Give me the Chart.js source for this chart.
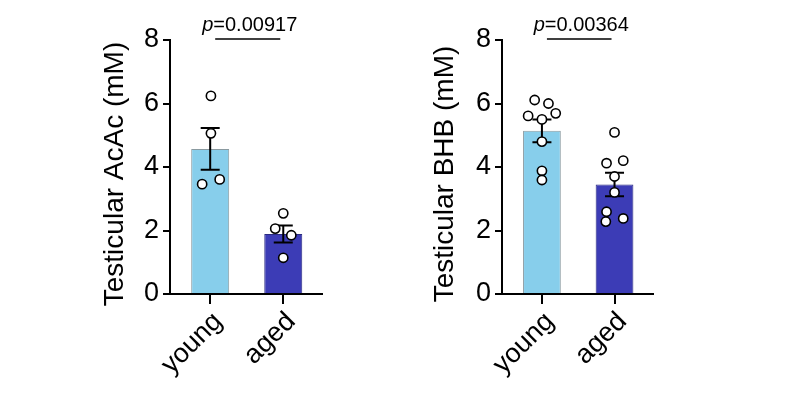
<!DOCTYPE html>
<html><head><meta charset="utf-8">
<script src="https://cdn.jsdelivr.net/npm/chart.js@4/dist/chart.umd.min.js"></script>
<style>
html,body{margin:0;padding:0;background:#fff;}
#wrap{position:relative;width:811px;height:397px;background:#fff;}
canvas{position:absolute;left:0;top:0;}
</style></head><body>
<div id="wrap"><canvas id="c1" width="811" height="397"></canvas><canvas id="c2" width="811" height="397"></canvas></div>
<script>
// ---- data ----
const groups = ['young', 'aged'];
const yTicks = [0, 2, 4, 6, 8];

const acacMeans = [4.57, 1.89];
const acacSems = [0.66, 0.27];
const acacYoung = [6.24, 5.06, 3.46, 3.61];
const acacAged = [2.54, 2.06, 1.85, 1.14];
const acacYoungJitter = [0.01, 0.01, -0.11, 0.13];
const acacAgedJitter = [0.0, -0.11, 0.11, 0.0];
const acacP = '0.00917';

const bhbMeans = [5.14, 3.45];
const bhbSems = [0.36, 0.37];
const bhbYoung = [6.11, 6.00, 5.61, 5.50, 5.69, 4.80, 3.88, 3.59];
const bhbAged = [5.09, 4.12, 4.20, 3.70, 3.20, 2.59, 2.28, 2.38];
const bhbYoungJitter = [-0.10, 0.09, -0.19, 0.0, 0.19, 0.0, 0.0, 0.0];
const bhbAgedJitter = [0.0, -0.11, 0.12, 0.0, 0.0, -0.11, -0.12, 0.12];
const bhbP = '0.00364';

// ---- style ----
const FONT = "'Liberation Sans', Arial, Helvetica, sans-serif";
const barFill = ['#87CEEB', '#3C3CB6'];
const barEdge = ['#8a9aa0', '#2a2a80'];

const errorBarPlugin = {
  id: 'errorBars',
  afterDatasetDraw(chart, args, opts) {
    if (args.index !== 0) return;
    const ctx = chart.ctx, y = chart.scales.y, x = chart.scales.x;
    ctx.save();
    ctx.strokeStyle = '#000';
    ctx.lineWidth = 2;
    opts.means.forEach((m, i) => {
      const cx = x.getPixelForValue(i);
      const top = y.getPixelForValue(m + opts.sems[i]);
      const bot = y.getPixelForValue(m - opts.sems[i]);
      ctx.beginPath();
      ctx.moveTo(cx, top); ctx.lineTo(cx, bot);
      ctx.moveTo(cx - 9.5, top); ctx.lineTo(cx + 9.5, top);
      ctx.moveTo(cx - 9.5, bot); ctx.lineTo(cx + 9.5, bot);
      ctx.stroke();
    });
    ctx.restore();
  }
};

const annotPlugin = {
  id: 'annot',
  afterDraw(chart, args, opts) {
    const ctx = chart.ctx, y = chart.scales.y, x = chart.scales.x;
    // significance line + p value
    const x0 = x.getPixelForValue(0) + 5, x1 = x.getPixelForValue(1) - 3;
    const ly = y.getPixelForValue(8) - 1;
    ctx.save();
    ctx.strokeStyle = '#000';
    ctx.lineWidth = 1.5;
    ctx.beginPath(); ctx.moveTo(x0, ly); ctx.lineTo(x1, ly); ctx.stroke();
    const fs = 20;
    ctx.fillStyle = '#000';
    ctx.textBaseline = 'alphabetic';
    ctx.font = 'italic ' + fs + 'px ' + FONT;
    const wP = ctx.measureText('p').width;
    ctx.font = fs + 'px ' + FONT;
    const rest = '=' + opts.p;
    const wR = ctx.measureText(rest).width;
    const start = (x0 + x1) / 2 + 2 - (wP + wR) / 2;
    ctx.font = 'italic ' + fs + 'px ' + FONT;
    ctx.textAlign = 'left';
    ctx.fillText('p', start, ly - 8);
    ctx.font = fs + 'px ' + FONT;
    ctx.fillText(rest, start + wP, ly - 8);
    // y axis title
    ctx.translate(opts.titleX, (y.top + y.bottom) / 2 + 7);
    ctx.rotate(-Math.PI / 2);
    ctx.font = '28px ' + FONT;
    ctx.textAlign = 'center';
    ctx.textBaseline = 'middle';
    ctx.fillText(opts.title, 0, 0);
    ctx.restore();
  }
};

function makeChart(id, cfg) {
  const pts = (vals, jit, g) => vals.map((v, i) => ({ x: g + jit[i], y: v }));
  const pointStyle = {
    type: 'scatter', order: 0,
    pointRadius: 4.6, pointBackgroundColor: '#fff', pointBorderColor: '#000', pointBorderWidth: 1.6,
    pointHoverRadius: 4.6
  };
  return new Chart(document.getElementById(id), {
    type: 'bar',
    data: {
      datasets: [
        { type: 'bar', data: cfg.means.map((m, i) => ({ x: i, y: m })), backgroundColor: barFill, borderColor: barEdge, borderWidth: 1,
          barPercentage: 0.52, categoryPercentage: 1, grouped: false, order: 2 },
        Object.assign({ data: pts(cfg.young, cfg.youngJ, 0) }, pointStyle),
        Object.assign({ data: pts(cfg.aged, cfg.agedJ, 1) }, pointStyle)
      ]
    },
    options: {
      responsive: false, animation: false, devicePixelRatio: 1,
      layout: { padding: { left: cfg.padLeft, right: cfg.padRight, top: 40, bottom: 0 } },
      plugins: {
        legend: { display: false }, tooltip: { enabled: false },
        errorBars: { means: cfg.means, sems: cfg.sems },
        annot: { p: cfg.p, title: cfg.title, titleX: cfg.titleX }
      },
      scales: {
        x: {
          type: 'linear', min: -0.55, max: 1.53, offset: false,
          afterBuildTicks: s => { s.ticks = groups.map((g, i) => ({ value: i })); },
          grid: { display: true, offset: false, drawOnChartArea: false, tickLength: 10, color: '#000', lineWidth: 2 },
          border: { display: true, color: '#000', width: 2 },
          ticks: { color: '#000', font: { family: FONT, size: 27 }, minRotation: 45, maxRotation: 45, padding: 2,
                   labelOffset: 8, callback: v => groups[v] },
          afterFit: s => { s.height = 103; }
        },
        y: {
          type: 'linear', min: 0, max: 8,
          afterBuildTicks: s => { s.ticks = yTicks.map(v => ({ value: v })); },
          grid: { display: true, drawOnChartArea: false, tickLength: 7, color: '#000', lineWidth: 2 },
          border: { display: true, color: '#000', width: 2 },
          ticks: { color: '#000', font: { family: FONT, size: 27 }, padding: 4 },
          title: { display: false },
          afterFit: s => { s.width = cfg.yWidth; }
        }
      }
    },
    plugins: [errorBarPlugin, annotPlugin]
  });
}

makeChart('c1', {
  means: acacMeans, sems: acacSems, young: acacYoung, aged: acacAged,
  youngJ: acacYoungJitter, agedJ: acacAgedJitter, p: acacP, title: 'Testicular AcAc (mM)',
  padLeft: 90, yWidth: 80, padRight: 811 - 322, titleX: 115
});
makeChart('c2', {
  means: bhbMeans, sems: bhbSems, young: bhbYoung, aged: bhbAged,
  youngJ: bhbYoungJitter, agedJ: bhbAgedJitter, p: bhbP, title: 'Testicular BHB (mM)',
  padLeft: 420, yWidth: 82, padRight: 811 - 653, titleX: 445
});
</script>
</body></html>
